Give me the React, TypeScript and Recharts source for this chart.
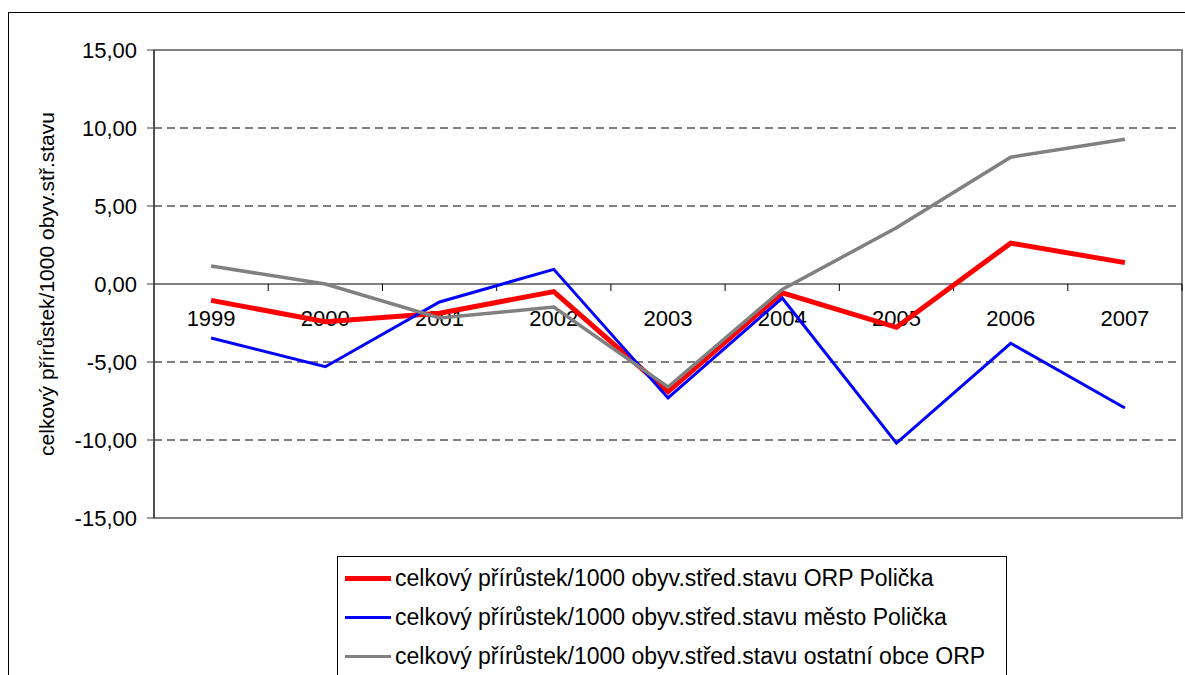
import { CartesianGrid, Line, LineChart, ReferenceArea, ReferenceLine, XAxis, YAxis } from "recharts"

const years = ["1999", "2000", "2001", "2002", "2003", "2004", "2005", "2006", "2007"]
const orpPolicka = [-1.05, -2.42, -1.87, -0.49, -6.9, -0.56, -2.78, 2.62, 1.37]
const mestoPolicka = [-3.46, -5.3, -1.15, 0.94, -7.3, -0.9, -10.2, -3.8, -7.95]
const ostatniObce = [1.15, 0.0, -2.18, -1.48, -6.6, -0.35, 3.6, 8.13, 9.28]
const yTicks = [-15, -10, -5, 0, 5, 10, 15]

const seriesInfo = [
  { key: "orp", name: "celkový přírůstek/1000 obyv.střed.stavu ORP Polička", color: "#FF0000", width: 5 },
  { key: "mesto", name: "celkový přírůstek/1000 obyv.střed.stavu město Polička", color: "#0000FF", width: 3 },
  { key: "ostatni", name: "celkový přírůstek/1000 obyv.střed.stavu ostatní obce ORP", color: "#808080", width: 3.5 },
]

const data = years.map((year, i) => ({
  year,
  orp: orpPolicka[i],
  mesto: mestoPolicka[i],
  ostatni: ostatniObce[i],
}))

const font = "'Liberation Sans', Arial, sans-serif"

const fmt = (v: number) => v.toFixed(2).replace(".", ",")

// zero line with category ticks and year labels, like the Excel category axis
function ZeroAxis(props: any) {
  const { x1, x2, y1 } = props
  const step = (x2 - x1) / years.length
  return (
    <g>
      <line x1={x1} x2={x2} y1={y1} y2={y1} stroke="#000" strokeWidth={1} />
      {years.map((_, i) => (
        <line key={"t" + i} x1={x1 + step * (i + 1)} x2={x1 + step * (i + 1)} y1={y1} y2={y1 + 7} stroke="#000" />
      ))}
      {years.map((y, i) => (
        <text
          key={y}
          x={x1 + step * (i + 0.5)}
          y={y1 + 34}
          textAnchor="middle"
          dominantBaseline="central"
          fontFamily={font}
          fontSize={22}
          fill="#000"
        >
          {y}
        </text>
      ))}
    </g>
  )
}

function LegendBox() {
  return (
    <div
      style={{
        position: "absolute",
        left: 337,
        top: 556,
        border: "1.5px solid #000",
        width: 670,
        height: 130,
        boxSizing: "border-box",
        paddingTop: 2,
        fontFamily: font,
        fontSize: 23,
        background: "#fff",
      }}
    >
      {seriesInfo.map((s) => (
        <div key={s.key} style={{ display: "flex", alignItems: "center", height: 39, whiteSpace: "nowrap" }}>
          <div style={{ width: 46, height: s.width, background: s.color, marginLeft: 7, marginRight: 4 }} />
          <span>{s.name}</span>
        </div>
      ))}
    </div>
  )
}

export default function App() {
  return (
    <div style={{ position: "fixed", left: 0, top: 0, width: 1185, height: 675, background: "#fff", overflow: "hidden" }}>
      <div
        style={{
          position: "absolute",
          left: 8,
          top: 12,
          width: 1300,
          height: 800,
          border: "1.5px solid #000",
        }}
      />
      <LineChart
        width={1185}
        height={675}
        data={data}
        margin={{ top: 50, right: 3, left: 0, bottom: 157 }}
        style={{ position: "absolute", left: 0, top: 0 }}
      >
        <ReferenceArea y1={-15} y2={15} fill="none" stroke="#808080" strokeWidth={2} />
        <CartesianGrid
          vertical={false}
          horizontalValues={[-10, -5, 5, 10]}
          stroke="#000"
          strokeDasharray="8 5"
        />
        <XAxis dataKey="year" scale="band" hide />
        <YAxis
          width={154}
          domain={[-15, 15]}
          ticks={yTicks}
          tickFormatter={fmt}
          interval={0}
          axisLine={{ stroke: "#404040", strokeWidth: 1.5 }}
          tickLine={{ stroke: "#404040" }}
          tickSize={7}
          tickMargin={10}
          tick={{ fill: "#000", fontSize: 22, fontFamily: font }}
          label={{
            value: "celkový přírůstek/1000 obyv.stř.stavu",
            angle: -90,
            position: "insideLeft",
            offset: 47,
            style: { fill: "#000", fontSize: 21, fontFamily: font, textAnchor: "middle" },
          }}
        />
        <ReferenceLine y={0} shape={ZeroAxis} />
        {seriesInfo.map((s) => (
          <Line
            key={s.key}
            type="linear"
            dataKey={s.key}
            name={s.name}
            stroke={s.color}
            strokeWidth={s.width}
            dot={false}
            activeDot={false}
            isAnimationActive={false}
          />
        ))}
      </LineChart>
      <LegendBox />
    </div>
  )
}
